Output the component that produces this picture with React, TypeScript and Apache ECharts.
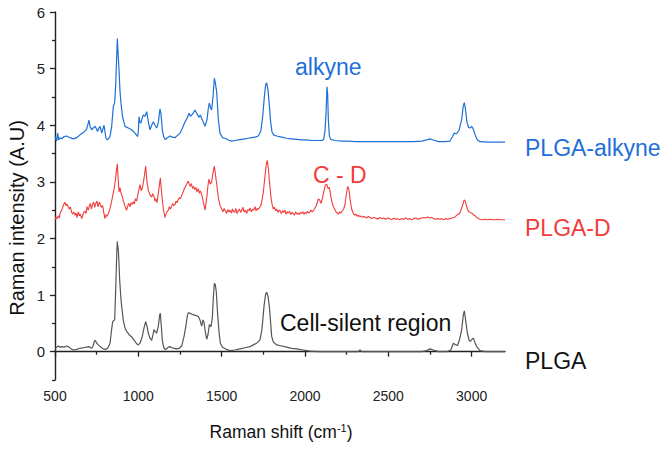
import React, { useEffect, useRef } from "react";
import * as echarts from "echarts";

const xTickValues = [500, 1000, 1500, 2000, 2500, 3000];
const xMinorTickValues = [750, 1250, 1750, 2250, 2750];
const yTickValues = [0, 1, 2, 3, 4, 5, 6];
const yMinorTickValues = [-0.5, 0.5, 1.5, 2.5, 3.5, 4.5, 5.5];

const plgaAlkyne: [number, number][] = [
  [500, 3.8], [510, 3.72], [516, 3.86], [522, 3.74], [530, 3.78], [540, 3.76], [555, 3.8], [570, 3.81], [590, 3.78], [610, 3.76],
  [630, 3.78], [650, 3.83], [670, 3.87], [690, 3.93], [698, 4.02], [704, 4.09], [710, 3.98], [720, 3.92], [732, 3.96], [740, 3.98],
  [748, 3.94], [756, 3.89], [764, 3.95], [770, 3.98], [776, 3.92], [780, 3.86], [788, 3.94], [794, 4.0], [800, 3.88], [806, 3.77],
  [815, 3.74], [830, 3.8], [840, 3.98], [850, 4.33], [858, 4.4], [864, 4.7], [870, 5.2], [874, 5.53], [878, 5.3], [884, 4.98],
  [890, 4.6], [896, 4.39], [905, 4.15], [920, 3.98], [940, 3.95], [960, 3.92], [980, 3.86], [996, 3.8], [1000, 3.9], [1004, 4.15],
  [1010, 4.05], [1016, 4.04], [1022, 4.12], [1030, 4.18], [1040, 4.16], [1050, 4.24], [1058, 4.1], [1064, 4.0], [1070, 3.92], [1080, 4.0],
  [1090, 4.06], [1100, 4.0], [1110, 3.95], [1120, 4.05], [1130, 4.29], [1136, 4.2], [1144, 3.92], [1152, 3.8], [1160, 3.75], [1175, 3.78],
  [1190, 3.81], [1205, 3.79], [1220, 3.78], [1235, 3.82], [1250, 3.86], [1265, 3.95], [1280, 4.06], [1292, 4.12], [1304, 4.21], [1312, 4.16],
  [1320, 4.18], [1330, 4.22], [1340, 4.27], [1352, 4.2], [1364, 4.14], [1372, 4.18], [1380, 4.12], [1392, 4.04], [1400, 3.98], [1412, 4.1],
  [1420, 4.3], [1426, 4.39], [1434, 4.3], [1440, 4.27], [1448, 4.5], [1456, 4.83], [1462, 4.75], [1470, 4.59], [1480, 4.1], [1490, 3.86],
  [1505, 3.78], [1520, 3.77], [1540, 3.74], [1560, 3.72], [1580, 3.73], [1600, 3.74], [1620, 3.75], [1640, 3.76], [1660, 3.77], [1680, 3.78],
  [1700, 3.79], [1720, 3.81], [1735, 3.9], [1746, 4.15], [1756, 4.5], [1764, 4.72], [1770, 4.75], [1778, 4.62], [1786, 4.35], [1794, 4.05],
  [1802, 3.88], [1812, 3.83], [1830, 3.81], [1860, 3.79], [1890, 3.77], [1920, 3.76], [1950, 3.75], [1980, 3.74], [2010, 3.74], [2040, 3.73],
  [2070, 3.73], [2100, 3.73], [2112, 3.75], [2120, 3.9], [2126, 4.2], [2132, 4.68], [2136, 4.55], [2140, 4.1], [2146, 3.82], [2154, 3.75],
  [2180, 3.73], [2220, 3.72], [2260, 3.72], [2300, 3.71], [2350, 3.71], [2400, 3.71], [2450, 3.71], [2500, 3.71], [2550, 3.71], [2600, 3.71],
  [2650, 3.71], [2700, 3.72], [2730, 3.74], [2750, 3.76], [2770, 3.74], [2800, 3.71], [2840, 3.71], [2870, 3.72], [2885, 3.8], [2895, 3.86],
  [2910, 3.85], [2925, 3.92], [2940, 4.1], [2950, 4.35], [2956, 4.4], [2962, 4.3], [2972, 4.05], [2982, 3.96], [2990, 3.95], [3000, 3.98],
  [3010, 3.93], [3022, 3.82], [3035, 3.74], [3050, 3.71], [3100, 3.7], [3150, 3.7], [3200, 3.7],
];

const plgaD: [number, number][] = [
  [500, 2.33], [506, 2.38], [512, 2.35], [520, 2.4], [526, 2.36], [532, 2.46], [540, 2.5], [546, 2.55], [552, 2.6], [560, 2.64],
  [566, 2.58], [572, 2.61], [580, 2.55], [586, 2.52], [592, 2.56], [600, 2.46], [606, 2.43], [612, 2.47], [620, 2.41], [626, 2.45],
  [632, 2.37], [640, 2.47], [646, 2.4], [652, 2.43], [660, 2.35], [666, 2.41], [672, 2.46], [680, 2.48], [686, 2.44], [692, 2.56],
  [700, 2.5], [706, 2.58], [712, 2.62], [718, 2.52], [726, 2.61], [732, 2.64], [738, 2.55], [746, 2.63], [752, 2.66], [758, 2.56],
  [766, 2.64], [772, 2.6], [778, 2.55], [786, 2.58], [792, 2.47], [800, 2.35], [806, 2.42], [812, 2.39], [820, 2.44], [828, 2.5],
  [834, 2.58], [840, 2.66], [848, 2.78], [856, 2.9], [862, 3.02], [868, 3.18], [874, 3.32], [878, 3.1], [884, 2.82], [890, 2.9],
  [896, 2.8], [904, 2.74], [910, 2.66], [916, 2.61], [922, 2.55], [930, 2.5], [936, 2.57], [942, 2.62], [950, 2.56], [956, 2.63],
  [962, 2.6], [970, 2.65], [976, 2.61], [982, 2.7], [990, 2.66], [996, 2.76], [1002, 2.84], [1010, 2.95], [1018, 2.84], [1026, 2.92],
  [1034, 3.06], [1044, 3.28], [1052, 3.0], [1060, 2.85], [1066, 2.8], [1072, 2.76], [1080, 2.73], [1086, 2.79], [1092, 2.76], [1100, 2.66],
  [1106, 2.7], [1112, 2.63], [1120, 2.8], [1132, 3.07], [1140, 2.8], [1150, 2.52], [1160, 2.37], [1166, 2.43], [1172, 2.47], [1180, 2.5],
  [1186, 2.56], [1192, 2.52], [1200, 2.57], [1206, 2.62], [1212, 2.58], [1220, 2.6], [1226, 2.66], [1232, 2.63], [1240, 2.69], [1246, 2.72],
  [1252, 2.7], [1260, 2.76], [1266, 2.8], [1272, 2.85], [1280, 2.9], [1286, 2.94], [1292, 2.97], [1300, 3.01], [1306, 2.95], [1312, 2.92],
  [1318, 2.97], [1326, 2.88], [1332, 2.92], [1340, 2.86], [1346, 2.9], [1352, 2.82], [1360, 2.88], [1366, 2.8], [1372, 2.84], [1380, 2.78],
  [1386, 2.7], [1392, 2.62], [1400, 2.5], [1406, 2.62], [1412, 2.76], [1418, 2.94], [1424, 3.05], [1432, 2.96], [1440, 3.0], [1448, 3.16],
  [1456, 3.28], [1464, 3.1], [1472, 2.92], [1480, 2.72], [1490, 2.58],
  [1500, 2.52], [1508, 2.47], [1515, 2.53], [1522, 2.49], [1530, 2.44], [1536, 2.51], [1544, 2.47], [1550, 2.5], [1558, 2.45], [1565, 2.52],
  [1570, 2.48], [1578, 2.46], [1585, 2.53], [1592, 2.44], [1600, 2.49], [1606, 2.52], [1614, 2.46], [1620, 2.5], [1628, 2.55], [1634, 2.47],
  [1642, 2.5], [1650, 2.44], [1656, 2.51], [1664, 2.49], [1670, 2.54], [1678, 2.47], [1686, 2.52], [1692, 2.5], [1700, 2.56], [1706, 2.49],
  [1714, 2.53], [1720, 2.51], [1728, 2.55], [1734, 2.58], [1740, 2.64], [1750, 2.82], [1760, 3.1], [1768, 3.32], [1774, 3.38], [1780, 3.24],
  [1788, 2.96], [1796, 2.72], [1804, 2.58], [1810, 2.52], [1816, 2.55], [1824, 2.49], [1830, 2.52], [1838, 2.46], [1844, 2.5], [1852, 2.48],
  [1858, 2.44], [1866, 2.49], [1872, 2.46], [1880, 2.5], [1886, 2.43], [1894, 2.47], [1900, 2.45], [1908, 2.48], [1914, 2.42], [1922, 2.46],
  [1930, 2.44], [1936, 2.41], [1944, 2.47], [1950, 2.43], [1958, 2.45], [1964, 2.42], [1972, 2.46], [1980, 2.44], [1986, 2.47], [1994, 2.43],
  [2000, 2.46], [2008, 2.44], [2014, 2.48], [2022, 2.45], [2030, 2.47], [2036, 2.5], [2044, 2.47], [2050, 2.49], [2058, 2.53], [2066, 2.57],
  [2074, 2.64], [2080, 2.7], [2088, 2.68], [2096, 2.62], [2104, 2.7], [2112, 2.82], [2122, 2.94], [2130, 2.96], [2138, 2.88], [2146, 2.9],
  [2154, 2.76], [2162, 2.64], [2170, 2.56], [2178, 2.52], [2186, 2.47], [2194, 2.45], [2200, 2.43], [2208, 2.47], [2216, 2.45], [2224, 2.49],
  [2232, 2.52], [2240, 2.6], [2248, 2.78], [2256, 2.92], [2264, 2.86], [2272, 2.66], [2280, 2.52], [2290, 2.44], [2298, 2.41], [2306, 2.43],
  [2314, 2.39], [2322, 2.41], [2330, 2.38], [2338, 2.4], [2346, 2.37], [2354, 2.39], [2362, 2.38], [2370, 2.36], [2380, 2.39], [2390, 2.37],
  [2400, 2.35], [2412, 2.37], [2424, 2.36], [2436, 2.34], [2448, 2.37], [2460, 2.35], [2472, 2.36], [2484, 2.34], [2496, 2.36], [2508, 2.35],
  [2520, 2.33], [2532, 2.36], [2544, 2.34], [2556, 2.35], [2568, 2.33], [2580, 2.35], [2592, 2.34], [2604, 2.36], [2616, 2.34], [2628, 2.35],
  [2640, 2.33], [2652, 2.35], [2664, 2.36], [2676, 2.34], [2688, 2.35], [2700, 2.36], [2712, 2.37], [2724, 2.36], [2736, 2.38], [2748, 2.36],
  [2760, 2.37], [2772, 2.35], [2784, 2.34], [2796, 2.35], [2808, 2.34], [2820, 2.35], [2832, 2.33], [2844, 2.35], [2856, 2.34], [2868, 2.35],
  [2880, 2.36], [2892, 2.37], [2900, 2.38], [2915, 2.42], [2930, 2.45], [2945, 2.58], [2955, 2.68], [2962, 2.66], [2970, 2.56], [2980, 2.48],
  [2990, 2.46], [3000, 2.45], [3010, 2.42], [3020, 2.4], [3035, 2.36], [3050, 2.34], [3065, 2.33], [3080, 2.34], [3095, 2.33], [3110, 2.34],
  [3125, 2.33], [3140, 2.33], [3155, 2.34], [3170, 2.33], [3185, 2.33], [3200, 2.33],
];

const plga: [number, number][] = [
  [500, 0.06], [510, 0.08], [520, 0.1], [530, 0.08], [540, 0.09], [555, 0.08], [570, 0.1], [585, 0.08], [600, 0.04], [615, 0.03],
  [630, 0.04], [650, 0.06], [670, 0.07], [690, 0.08], [700, 0.09], [710, 0.08], [720, 0.06], [728, 0.1], [736, 0.18], [742, 0.2],
  [750, 0.15], [760, 0.12], [775, 0.08], [790, 0.05], [805, 0.04], [818, 0.07], [830, 0.15], [840, 0.4], [846, 0.53], [852, 0.55],
  [858, 0.56], [862, 0.9], [866, 1.27], [870, 1.7], [874, 1.95], [877, 1.85], [880, 1.8], [884, 1.55], [888, 1.27], [894, 1.0],
  [900, 0.8], [910, 0.55], [920, 0.42], [930, 0.36], [945, 0.3], [960, 0.26], [975, 0.2], [990, 0.14], [1000, 0.12], [1010, 0.15],
  [1024, 0.27], [1034, 0.42], [1044, 0.53], [1052, 0.45], [1060, 0.32], [1070, 0.24], [1080, 0.2], [1088, 0.3], [1094, 0.39], [1102, 0.35],
  [1110, 0.33], [1120, 0.45], [1128, 0.65], [1132, 0.68], [1138, 0.45], [1144, 0.2], [1152, 0.08], [1160, 0.04], [1170, 0.05], [1180, 0.08],
  [1190, 0.09], [1200, 0.07], [1215, 0.06], [1230, 0.05], [1245, 0.06], [1260, 0.1], [1275, 0.28], [1285, 0.45], [1295, 0.65], [1300, 0.69],
  [1315, 0.67], [1330, 0.65], [1345, 0.64], [1360, 0.62], [1370, 0.56], [1380, 0.45], [1388, 0.56], [1394, 0.52], [1402, 0.35], [1410, 0.22],
  [1418, 0.3], [1426, 0.48], [1436, 0.44], [1444, 0.6], [1450, 0.95], [1456, 1.21], [1462, 1.18], [1468, 1.05], [1476, 0.65], [1484, 0.35],
  [1492, 0.15], [1505, 0.08], [1530, 0.04], [1550, 0.02], [1580, 0.03], [1610, 0.05], [1640, 0.07], [1670, 0.09], [1690, 0.12], [1710, 0.15],
  [1730, 0.21], [1742, 0.4], [1754, 0.8], [1764, 1.02], [1770, 1.05], [1778, 0.98], [1786, 0.8], [1794, 0.5], [1800, 0.27], [1810, 0.17],
  [1830, 0.12], [1860, 0.1], [1890, 0.08], [1920, 0.06], [1950, 0.05], [1990, 0.03], [2030, 0.01], [2080, 0.0], [2150, 0.0], [2250, 0.0],
  [2320, 0.0], [2330, 0.03], [2340, 0.0], [2400, 0.0], [2500, 0.0], [2600, 0.0], [2700, 0.0], [2730, 0.02], [2750, 0.05], [2770, 0.03],
  [2800, 0.0], [2850, 0.0], [2875, 0.03], [2890, 0.15], [2905, 0.12], [2915, 0.11], [2928, 0.22], [2940, 0.39], [2950, 0.65], [2956, 0.72],
  [2962, 0.6], [2974, 0.33], [2985, 0.2], [2992, 0.18], [3002, 0.22], [3010, 0.24], [3020, 0.16], [3032, 0.08], [3050, 0.02], [3080, 0.0],
  [3140, 0.0], [3200, 0.0],
];

const BLUE = "#1f6fd8";
const RED = "#f23c3c";
const GRAY = "#555555";
const FONT = "'Liberation Sans', Arial, sans-serif";

export default function App() {
  const ref = useRef<HTMLDivElement>(null);
  useEffect(() => {
    if (!ref.current) return;
    const chart = echarts.init(ref.current, null, { renderer: "svg" });
    const axisLine = { show: true, lineStyle: { color: "#222", width: 1.4 } };
    const tickStyle = { color: "#222", width: 1.3 };
    const fmt = (v: number) => String(v);
    chart.setOption({
      animation: false,
      backgroundColor: "#ffffff",
      grid: { left: 55, top: 12, right: 161, bottom: 72, containLabel: false },
      xAxis: [
        {
          type: "value", min: 500, max: 3200, position: "bottom",
          axisLine,
          axisTick: { show: true, inside: false, length: 5, customValues: xTickValues, lineStyle: tickStyle },
          axisLabel: { customValues: xTickValues, formatter: fmt, fontSize: 14, color: "#222", margin: 9, fontFamily: FONT },
          splitLine: { show: false },
        },
        {
          type: "value", min: 500, max: 3200, position: "bottom",
          axisLine: { show: false },
          axisTick: { show: true, inside: false, length: 3, customValues: xMinorTickValues, lineStyle: tickStyle },
          axisLabel: { show: false },
          splitLine: { show: false },
        },
      ],
      yAxis: [
        {
          type: "value", min: -0.5, max: 6, position: "left",
          axisLine,
          axisTick: { show: true, inside: false, length: 5, customValues: yTickValues, lineStyle: tickStyle },
          axisLabel: { customValues: yTickValues, formatter: fmt, fontSize: 15, color: "#222", margin: 10, fontFamily: FONT },
          splitLine: { show: false },
        },
        {
          type: "value", min: -0.5, max: 6, position: "left",
          axisLine: { show: false },
          axisTick: { show: true, inside: false, length: 3, customValues: yMinorTickValues, lineStyle: tickStyle },
          axisLabel: { show: false },
          splitLine: { show: false },
        },
      ],
      series: [
        { name: "PLGA", type: "line", data: plga, showSymbol: false, symbol: "none", lineStyle: { color: GRAY, width: 1.2 }, xAxisIndex: 0, yAxisIndex: 0 },
        { name: "PLGA-D", type: "line", data: plgaD, showSymbol: false, symbol: "none", lineStyle: { color: RED, width: 1.1 }, xAxisIndex: 0, yAxisIndex: 0 },
        { name: "PLGA-alkyne", type: "line", data: plgaAlkyne, showSymbol: false, symbol: "none", lineStyle: { color: BLUE, width: 1.2 }, xAxisIndex: 0, yAxisIndex: 0 },
      ],
      graphic: [
        { type: "text", x: 17, y: 218, rotation: Math.PI / 2, style: { text: "Raman intensity (A.U)", font: `20px ${FONT}`, fill: "#111", align: "center", verticalAlign: "middle" } },
        {
          type: "text", x: 281, y: 432,
          style: {
            text: "Raman shift (cm{sup|-1})", font: `17.5px ${FONT}`, fill: "#111", align: "center", verticalAlign: "middle",
            rich: { sup: { fontSize: 11, fontFamily: FONT, fill: "#111", verticalAlign: "top", padding: [0, 0, 8, 0] } },
          },
        },
        { type: "text", x: 295, y: 67, style: { text: "alkyne", font: `23px ${FONT}`, fill: BLUE, verticalAlign: "middle" } },
        { type: "text", x: 313, y: 175, style: { text: "C - D", font: `23px ${FONT}`, fill: RED, verticalAlign: "middle" } },
        { type: "text", x: 280, y: 323, style: { text: "Cell-silent region", font: `23px ${FONT}`, fill: "#111", verticalAlign: "middle" } },
        { type: "text", x: 525, y: 148, style: { text: "PLGA-alkyne", font: `23px ${FONT}`, fill: BLUE, verticalAlign: "middle" } },
        { type: "text", x: 525, y: 228, style: { text: "PLGA-D", font: `23px ${FONT}`, fill: RED, verticalAlign: "middle" } },
        { type: "text", x: 525, y: 361, style: { text: "PLGA", font: `23px ${FONT}`, fill: "#111", verticalAlign: "middle" } },
      ],
    });
    return () => chart.dispose();
  }, []);
  return <div ref={ref} style={{ position: "fixed", left: 0, top: 0, width: 666, height: 452, background: "#fff" }} />;
}
